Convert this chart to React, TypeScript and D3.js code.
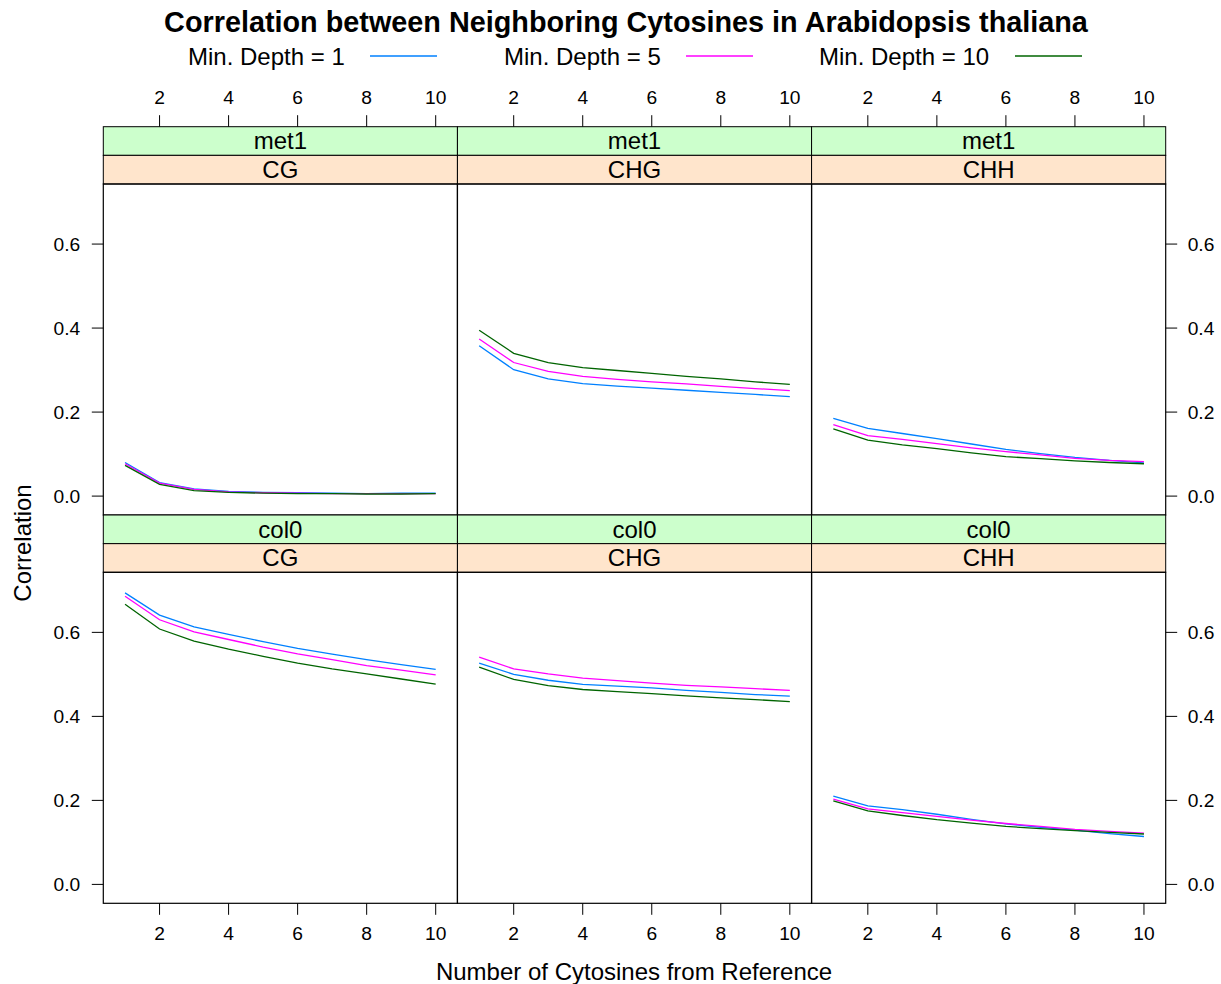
import React from "react";
import * as d3 from "d3";

const WIDTH = 1221;
const HEIGHT = 984;
const FONT = "'Liberation Sans', Arial, Helvetica, sans-serif";

const distances = [1, 2, 3, 4, 5, 6, 7, 8, 9, 10];
const contexts = ["CG", "CHG", "CHH"];
const genotypes = ["met1", "col0"];
const depthLabels = ["Min. Depth = 1", "Min. Depth = 5", "Min. Depth = 10"];
const depthColors = ["#0080FF", "#FF00FF", "#006400"];
const xTicks = [2, 4, 6, 8, 10];
const yTicks = [0, 0.2, 0.4, 0.6];

// met1
const met1CG_d1 = [0.080, 0.032, 0.017, 0.011, 0.009, 0.008, 0.007, 0.006, 0.007, 0.007];
const met1CG_d5 = [0.077, 0.031, 0.016, 0.010, 0.008, 0.007, 0.006, 0.006, 0.006, 0.006];
const met1CG_d10 = [0.073, 0.028, 0.013, 0.009, 0.007, 0.006, 0.006, 0.005, 0.005, 0.006];

const met1CHG_d1 = [0.358, 0.301, 0.279, 0.268, 0.262, 0.257, 0.252, 0.247, 0.242, 0.237];
const met1CHG_d5 = [0.374, 0.318, 0.297, 0.285, 0.278, 0.272, 0.267, 0.261, 0.256, 0.251];
const met1CHG_d10 = [0.395, 0.340, 0.318, 0.306, 0.299, 0.292, 0.285, 0.279, 0.272, 0.266];

const met1CHH_d1 = [0.185, 0.161, 0.149, 0.137, 0.124, 0.111, 0.101, 0.092, 0.085, 0.079];
const met1CHH_d5 = [0.170, 0.144, 0.135, 0.125, 0.115, 0.106, 0.098, 0.090, 0.085, 0.082];
const met1CHH_d10 = [0.160, 0.133, 0.122, 0.113, 0.103, 0.094, 0.089, 0.084, 0.080, 0.077];

// col0
const col0CG_d1 = [0.694, 0.641, 0.613, 0.595, 0.578, 0.562, 0.548, 0.535, 0.523, 0.512];
const col0CG_d5 = [0.686, 0.630, 0.601, 0.583, 0.565, 0.549, 0.535, 0.521, 0.510, 0.499];
const col0CG_d10 = [0.667, 0.608, 0.579, 0.560, 0.543, 0.527, 0.513, 0.501, 0.489, 0.477];

const col0CHG_d1 = [0.527, 0.500, 0.486, 0.476, 0.472, 0.468, 0.462, 0.457, 0.452, 0.448];
const col0CHG_d5 = [0.541, 0.513, 0.501, 0.491, 0.485, 0.479, 0.474, 0.470, 0.466, 0.462];
const col0CHG_d10 = [0.517, 0.488, 0.473, 0.464, 0.459, 0.454, 0.449, 0.444, 0.440, 0.435];

const col0CHH_d1 = [0.210, 0.187, 0.178, 0.167, 0.155, 0.144, 0.136, 0.129, 0.121, 0.114];
const col0CHH_d5 = [0.203, 0.180, 0.171, 0.162, 0.153, 0.145, 0.138, 0.131, 0.126, 0.122];
const col0CHH_d10 = [0.199, 0.175, 0.164, 0.154, 0.146, 0.138, 0.133, 0.128, 0.124, 0.120];

const panelSeries = [
  [
    [met1CG_d1, met1CG_d5, met1CG_d10],
    [met1CHG_d1, met1CHG_d5, met1CHG_d10],
    [met1CHH_d1, met1CHH_d5, met1CHH_d10],
  ],
  [
    [col0CG_d1, col0CG_d5, col0CG_d10],
    [col0CHG_d1, col0CHG_d5, col0CHG_d10],
    [col0CHH_d1, col0CHH_d5, col0CHH_d10],
  ],
];

// layout
const LEFT = 103.3;
const RIGHT = 1165.7;
const ROW_TOP = [126.7, 515];
const STRIP_H = 28.65;
const PANEL_H = 331;
const TICK = 11.5;
const colW = (RIGHT - LEFT) / 3;

const legendPos = [
  { tx: 188, lx: 370 },
  { tx: 504, lx: 686 },
  { tx: 819, lx: 1015 },
];

export default function App() {
  const x = d3.scaleLinear().domain([0.37, 10.63]).range([0, colW]);
  const y = d3.scaleLinear().domain([-0.045, 0.743]).range([PANEL_H, 0]);
  const line = d3
    .line<number>()
    .x((_, i) => x(distances[i]))
    .y((d) => y(d));

  return (
    <svg
      width={WIDTH}
      height={HEIGHT}
      style={{ position: "absolute", left: 0, top: 0, background: "#fff" }}
      fontFamily={FONT}
    >
      <rect width={WIDTH} height={HEIGHT} fill="#fff" />
      <text x={626} y={32} textAnchor="middle" fontSize={28.8} fontWeight="bold">
        Correlation between Neighboring Cytosines in Arabidopsis thaliana
      </text>

      {/* legend */}
      {depthLabels.map((lab, i) => (
        <g key={lab}>
          <text x={legendPos[i].tx} y={64.5} fontSize={24}>
            {lab}
          </text>
          <line
            x1={legendPos[i].lx}
            x2={legendPos[i].lx + 67}
            y1={56}
            y2={56}
            stroke={depthColors[i]}
            strokeWidth={1.3}
          />
        </g>
      ))}

      {genotypes.map((geno, r) => {
        const top = ROW_TOP[r];
        const panelTop = top + 2 * STRIP_H;
        return contexts.map((ctx, c) => {
          const left = LEFT + c * colW;
          return (
            <g key={geno + ctx} transform={`translate(${left},0)`}>
              {/* strips */}
              <rect x={0} y={top} width={colW} height={STRIP_H} fill="#CCFFCC" stroke="#000" strokeWidth={1} />
              <rect x={0} y={top + STRIP_H} width={colW} height={STRIP_H} fill="#FFE5CC" stroke="#000" strokeWidth={1} />
              <text x={colW / 2} y={top + STRIP_H / 2} dy="0.35em" textAnchor="middle" fontSize={24}>
                {geno}
              </text>
              <text x={colW / 2} y={top + STRIP_H * 1.5} dy="0.35em" textAnchor="middle" fontSize={24}>
                {ctx}
              </text>

              <g transform={`translate(0,${panelTop})`}>
                {panelSeries[r][c].map((vals, k) => (
                  <path
                    key={k}
                    d={line(vals) || ""}
                    fill="none"
                    stroke={depthColors[k]}
                    strokeWidth={1.3}
                  />
                ))}
                <rect x={0} y={0} width={colW} height={PANEL_H} fill="none" stroke="#000" strokeWidth={1.2} />

                {/* left y axis */}
                {c === 0 &&
                  yTicks.map((t) => (
                    <g key={t} transform={`translate(0,${y(t)})`}>
                      <line x1={-TICK} x2={0} stroke="#000" strokeWidth={1} />
                      <text x={-23} dy="0.35em" textAnchor="end" fontSize={19.2}>
                        {d3.format(".1f")(t)}
                      </text>
                    </g>
                  ))}
                {/* right y axis */}
                {c === 2 &&
                  yTicks.map((t) => (
                    <g key={t} transform={`translate(${colW},${y(t)})`}>
                      <line x1={0} x2={TICK} stroke="#000" strokeWidth={1} />
                      <text x={22} dy="0.35em" textAnchor="start" fontSize={19.2}>
                        {d3.format(".1f")(t)}
                      </text>
                    </g>
                  ))}
                {/* bottom x axis */}
                {r === 1 &&
                  xTicks.map((t) => (
                    <g key={t} transform={`translate(${x(t)},${PANEL_H})`}>
                      <line y1={0} y2={TICK} stroke="#000" strokeWidth={1} />
                      <text y={36.3} textAnchor="middle" fontSize={19.2}>
                        {t}
                      </text>
                    </g>
                  ))}
              </g>

              {/* top x axis */}
              {r === 0 &&
                xTicks.map((t) => (
                  <g key={t} transform={`translate(${x(t)},${top})`}>
                    <line y1={0} y2={-TICK} stroke="#000" strokeWidth={1} />
                    <text y={-22.4} textAnchor="middle" fontSize={19.2}>
                      {t}
                    </text>
                  </g>
                ))}
            </g>
          );
        });
      })}

      <text x={634} y={980} textAnchor="middle" fontSize={24}>
        Number of Cytosines from Reference
      </text>
      <text
        transform={`translate(31,543) rotate(-90)`}
        textAnchor="middle"
        fontSize={24}
      >
        Correlation
      </text>
    </svg>
  );
}
